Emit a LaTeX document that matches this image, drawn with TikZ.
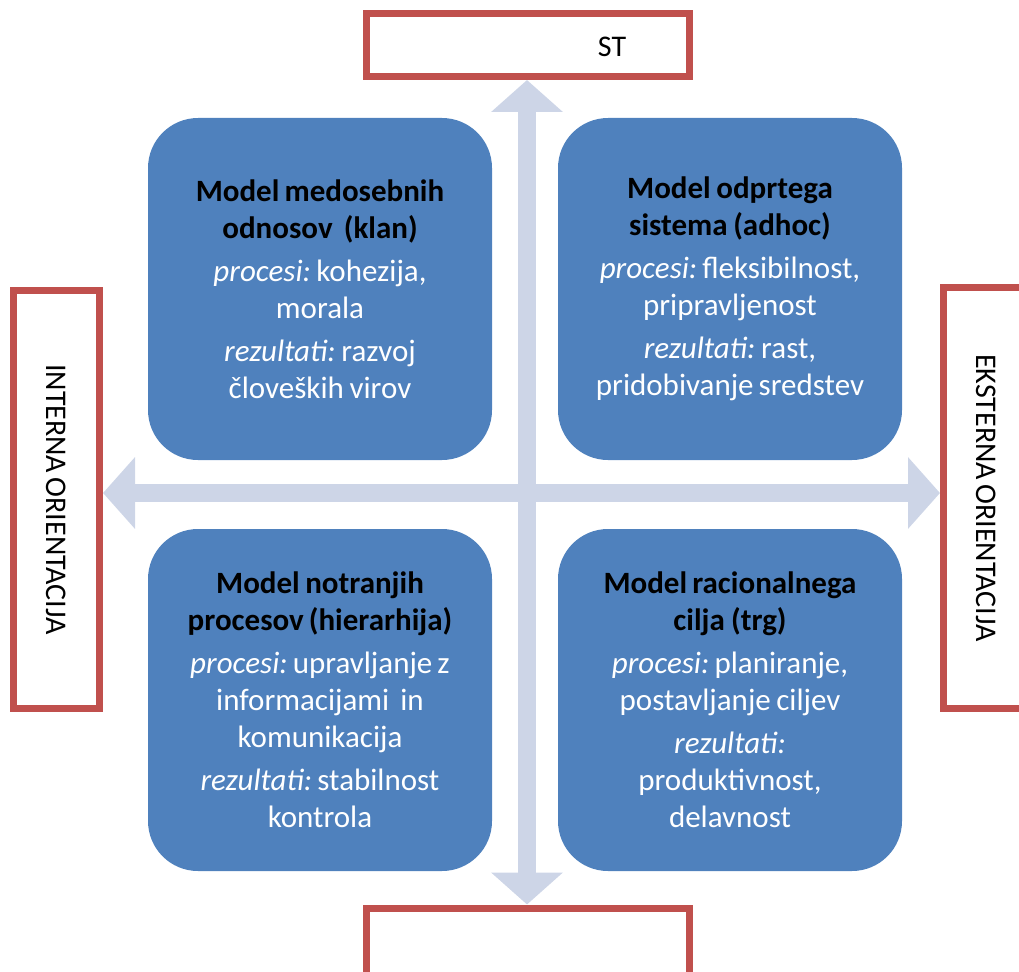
\documentclass[tikz,border=0pt]{standalone}
\usepackage{fontspec}
\setmainfont{Carlito}
\usetikzlibrary{arrows.meta}

\definecolor{modelblue}{HTML}{4F81BD}
\definecolor{framered}{HTML}{C0504D}
\definecolor{axisgray}{HTML}{CDD5E7}

\newcommand{\narrowspaces}{\frenchspacing\spaceskip=4.5pt plus 1pt minus 1pt\xspaceskip=\spaceskip\relax}

\begin{document}
\begin{tikzpicture}[x=1pt,y=-1pt]
    \tikzstyle{model}=[fill=modelblue, rounded corners=50pt, minimum width=344pt, minimum height=342pt, text width=336pt, align=center, text=white, font=\fontsize{31}{37}\selectfont, execute at begin node=\narrowspaces];
    \tikzstyle{frame}=[draw=framered, line width=7pt, fill=white, inner sep=0];
    \tikzstyle{side}=[font=\fontsize{30}{36}\selectfont\narrowspaces];
    \tikzstyle{axis}=[draw=axisgray, line width=18pt, -{Triangle[width=70pt,length=32pt]}];

    \useasboundingbox (0,0) rectangle (1019,971);

    % the four outer labels
    \node[frame, minimum width=323pt, minimum height=63pt] at (528,45) (top) {};
    \node[side] at (612,47) (toptxt) {ST};
    \node[frame, minimum width=323pt, minimum height=80pt] at (528,948) (bottom) {};
    \node[frame, minimum width=86pt, minimum height=418pt, side] at (56.5,499.5) (left) {\rotatebox{-90}{INTERNA ORIENTACIJA}};
    \node[frame, minimum width=86pt, minimum height=421pt, side] at (986.5,498) (right) {\rotatebox{-90}{EKSTERNA ORIENTACIJA}};

    % cross of arrows
    \coordinate (mid) at (527,493);
    \draw[axis] (mid) -- (mid -| left.east);
    \draw[axis] (mid) -- (mid -| right.west);
    \draw[axis] (mid) -- (mid |- top.south);
    \draw[axis] (mid) -- (mid |- bottom.north);

    % quadrants
    \node[model] at (320,289) (clan) {\textbf{\textcolor{black}{Model medosebnih\\ odnosov\ \ (klan)}}\\[6pt]
        \textit{procesi:} kohezija,\\ morala\\[6pt]
        \textit{rezultati:} razvoj\\ človeških virov};
    \node[model] at (730,289) (adhoc) {\textbf{\textcolor{black}{Model odprtega\\ sistema (adhoc)}}\\[6pt]
        \textit{procesi:} fleksibilnost,\\ pripravljenost\\[6pt]
        \textit{rezultati:} rast,\\ pridobivanje sredstev};
    \node[model] at (320,700) (hier) {\textbf{\textcolor{black}{Model notranjih\\ procesov (hierarhija)}}\\[6pt]
        \textit{procesi:} upravljanje z\\ informacijami\ \ in\\ komunikacija\\[6pt]
        \textit{rezultati:} stabilnost\\ kontrola};
    \node[model] at (730,700) (market) {\textbf{\textcolor{black}{Model racionalnega\\ cilja (trg)}}\\[6pt]
        \textit{procesi:} planiranje,\\ postavljanje ciljev\\[6pt]
        \textit{rezultati:}\\ produktivnost,\\ delavnost};
\end{tikzpicture}
\end{document}
